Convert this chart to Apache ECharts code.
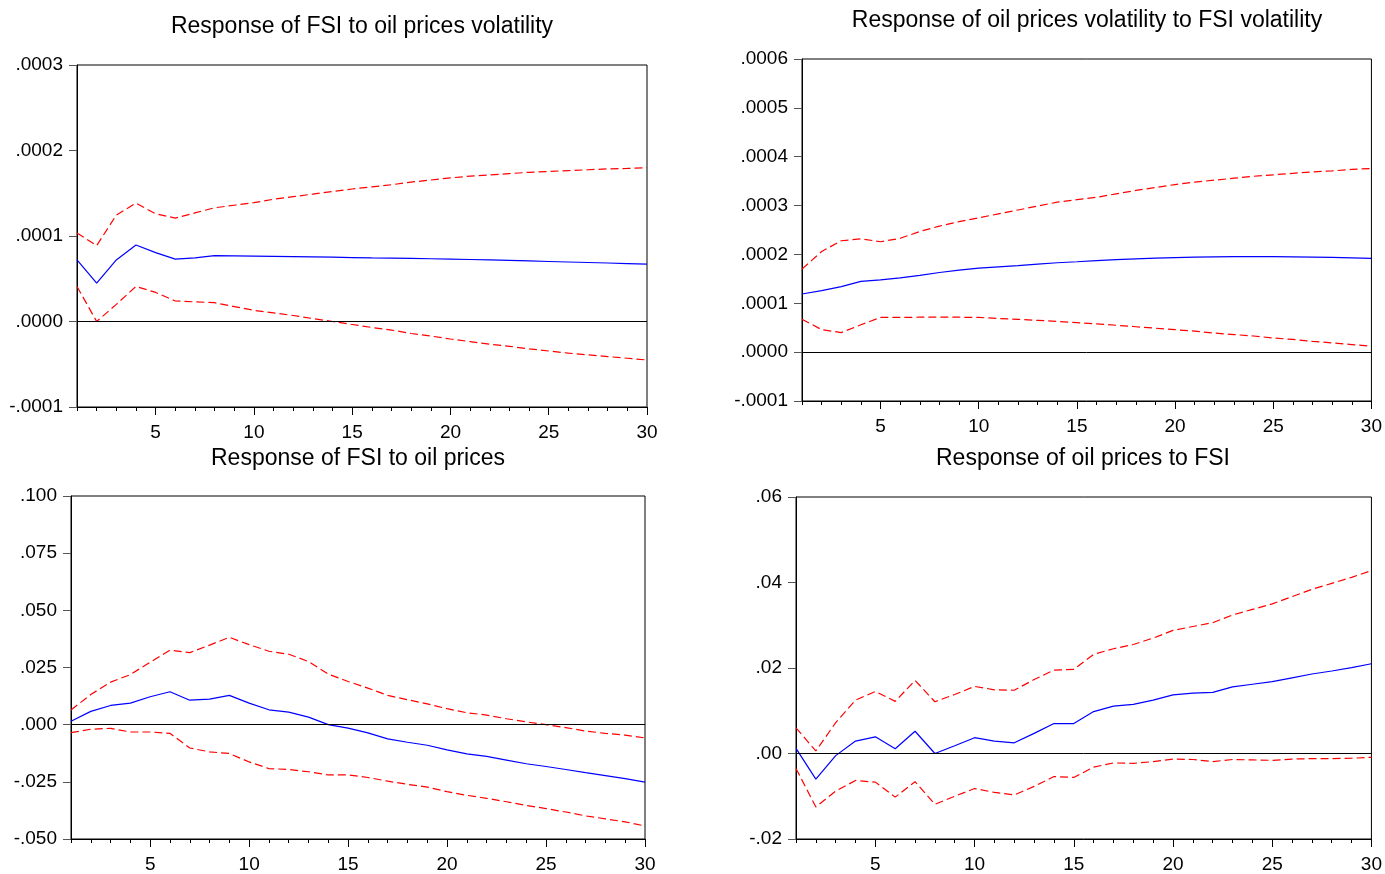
<!DOCTYPE html>
<html>
<head>
<meta charset="utf-8">
<script src="https://cdn.jsdelivr.net/npm/echarts@6/dist/echarts.min.js"></script>
<style>
html,body{margin:0;padding:0;background:#fff;}
#chart{width:1385px;height:874px;}
</style>
</head>
<body>
<div id="chart"></div>
<script>
// ---- data ----
const horizons = [1,2,3,4,5,6,7,8,9,10,11,12,13,14,15,16,17,18,19,20,21,22,23,24,25,26,27,28,29,30];
const xTickLabels = [5,10,15,20,25,30];

const titles = [
  "Response of FSI to oil prices volatility",
  "Response of oil prices volatility to FSI volatility",
  "Response of FSI to oil prices",
  "Response of oil prices to FSI"
];

// Panel 1: Response of FSI to oil prices volatility
const p1Mid = [7.20e-5,4.50e-5,7.20e-5,8.95e-5,8.05e-5,7.30e-5,7.45e-5,7.70e-5,7.68e-5,7.65e-5,7.62e-5,7.59e-5,7.56e-5,7.52e-5,7.48e-5,7.44e-5,7.41e-5,7.38e-5,7.34e-5,7.30e-5,7.25e-5,7.20e-5,7.14e-5,7.08e-5,7.02e-5,6.96e-5,6.90e-5,6.84e-5,6.77e-5,6.70e-5];
const p1Up  = [1.035e-4,0.887e-4,1.245e-4,1.385e-4,1.26e-4,1.21e-4,1.27e-4,1.33e-4,1.36e-4,1.39e-4,1.43e-4,1.46e-4,1.49e-4,1.52e-4,1.55e-4,1.575e-4,1.60e-4,1.63e-4,1.655e-4,1.68e-4,1.70e-4,1.715e-4,1.73e-4,1.745e-4,1.755e-4,1.765e-4,1.775e-4,1.785e-4,1.79e-4,1.80e-4];
const p1Lo  = [4.1e-5,0.0,2.0e-5,4.1e-5,3.4e-5,2.4e-5,2.3e-5,2.2e-5,1.75e-5,1.3e-5,1.0e-5,7.0e-6,3.5e-6,0.0,-3.5e-6,-7.0e-6,-1.0e-5,-1.4e-5,-1.7e-5,-2.05e-5,-2.35e-5,-2.65e-5,-2.9e-5,-3.2e-5,-3.45e-5,-3.7e-5,-3.9e-5,-4.1e-5,-4.3e-5,-4.5e-5];

// Panel 2: Response of oil prices volatility to FSI volatility
const p2Mid = [1.19e-4,1.26e-4,1.34e-4,1.45e-4,1.48e-4,1.52e-4,1.57e-4,1.63e-4,1.68e-4,1.72e-4,1.745e-4,1.77e-4,1.80e-4,1.83e-4,1.85e-4,1.875e-4,1.895e-4,1.91e-4,1.925e-4,1.935e-4,1.945e-4,1.95e-4,1.955e-4,1.955e-4,1.955e-4,1.95e-4,1.945e-4,1.94e-4,1.93e-4,1.92e-4];
const p2Up  = [1.70e-4,2.06e-4,2.28e-4,2.32e-4,2.26e-4,2.33e-4,2.47e-4,2.58e-4,2.67e-4,2.75e-4,2.83e-4,2.91e-4,2.99e-4,3.07e-4,3.12e-4,3.17e-4,3.24e-4,3.31e-4,3.37e-4,3.43e-4,3.48e-4,3.52e-4,3.56e-4,3.60e-4,3.63e-4,3.66e-4,3.69e-4,3.71e-4,3.74e-4,3.76e-4];
const p2Lo  = [6.75e-5,4.6e-5,4.0e-5,5.6e-5,7.1e-5,7.1e-5,7.15e-5,7.15e-5,7.15e-5,7.1e-5,6.9e-5,6.7e-5,6.5e-5,6.3e-5,6.05e-5,5.8e-5,5.5e-5,5.2e-5,4.9e-5,4.6e-5,4.3e-5,3.9e-5,3.6e-5,3.3e-5,2.9e-5,2.6e-5,2.2e-5,1.9e-5,1.55e-5,1.2e-5];

// Panel 3: Response of FSI to oil prices
const p3Mid = [0.0015,0.0058,0.0084,0.0094,0.0122,0.0144,0.0107,0.0112,0.0128,0.0094,0.0065,0.0055,0.0033,0.0000,-0.0015,-0.0036,-0.0062,-0.0077,-0.0090,-0.0110,-0.0128,-0.0139,-0.0155,-0.0171,-0.0183,-0.0196,-0.0210,-0.0223,-0.0236,-0.0251];
const p3Up  = [0.0064,0.0132,0.0186,0.0219,0.0273,0.0326,0.0315,0.0348,0.0382,0.0350,0.0321,0.0308,0.0276,0.0221,0.0189,0.0160,0.0128,0.0109,0.0091,0.0070,0.0052,0.0042,0.0026,0.0012,0.0000,-0.0013,-0.0028,-0.0038,-0.0046,-0.0058];
const p3Lo  = [-0.0035,-0.0020,-0.0016,-0.0032,-0.0032,-0.0038,-0.0102,-0.0119,-0.0126,-0.0163,-0.0192,-0.0196,-0.0206,-0.0220,-0.0220,-0.0231,-0.0247,-0.0261,-0.0273,-0.0293,-0.0309,-0.0322,-0.0337,-0.0353,-0.0367,-0.0382,-0.0399,-0.0412,-0.0425,-0.0443];

// Panel 4: Response of oil prices to FSI
const p4Mid = [0.0012,-0.0060,-0.0005,0.0029,0.0039,0.0011,0.0052,0.0000,0.0018,0.0037,0.0029,0.0025,0.0047,0.0070,0.0070,0.0098,0.0111,0.0115,0.0125,0.0137,0.0141,0.0143,0.0156,0.0162,0.0168,0.0177,0.0186,0.0193,0.0201,0.0210];
const p4Up  = [0.0060,0.0006,0.0072,0.0125,0.0145,0.0122,0.0171,0.0121,0.0138,0.0157,0.0149,0.0148,0.0173,0.0195,0.0197,0.0232,0.0245,0.0255,0.0270,0.0288,0.0297,0.0306,0.0324,0.0337,0.0350,0.0367,0.0384,0.0398,0.0412,0.0428];
const p4Lo  = [-0.0035,-0.0125,-0.0088,-0.0063,-0.0067,-0.0102,-0.0066,-0.0119,-0.0100,-0.0082,-0.0091,-0.0097,-0.0077,-0.0054,-0.0056,-0.0032,-0.0022,-0.0023,-0.0019,-0.0013,-0.0014,-0.0019,-0.0014,-0.0015,-0.0016,-0.0013,-0.0012,-0.0012,-0.0011,-0.0009];

// y-axis ranges (min, max, interval, decimals)
const yMins = [-0.0001,-0.0001,-0.05,-0.02];
const yMaxs = [0.0003,0.0006,0.1,0.06];
const yIntervals = [0.0001,0.0001,0.025,0.02];
const yDecimals = [4,4,3,2];

// ---- layout / style ----
const FONT = "'Liberation Sans', Arial, sans-serif";
const grids = [
  {left:77, right:738, top:65, bottom:467},
  {left:802, right:12, top:59, bottom:473},
  {left:71, right:740, top:496, bottom:33},
  {left:796, right:13, top:497, bottom:32}
];
const titlePos = [
  {left:357, top:10},
  {left:1082, top:4},
  {left:353, top:442},
  {left:1078, top:442}
];
const panels = [
  [p1Mid,p1Up,p1Lo],
  [p2Mid,p2Up,p2Lo],
  [p3Mid,p3Up,p3Lo],
  [p4Mid,p4Up,p4Lo]
];

function pairs(arr){ return horizons.map((h,i)=>[h,arr[i]]); }
function fmt(d){
  return function(v){
    return Number(v).toFixed(d).replace(/^(-?)0\./,'$1.');
  };
}

const option = {
  backgroundColor:'#fff',
  animation:false,
  title: titles.map((t,i)=>({
    text:t, left:titlePos[i].left, top:titlePos[i].top, textAlign:'center',
    textStyle:{fontFamily:FONT,fontSize:23,fontWeight:'normal',color:'#000'}
  })),
  grid: grids.map(g=>Object.assign({show:true,borderColor:'#000',borderWidth:1,backgroundColor:'#fff',containLabel:false},g)),
  xAxis: [],
  yAxis: [],
  series: []
};

grids.forEach((g,i)=>{
  // minor ticks axis
  option.xAxis.push({
    type:'value', gridIndex:i, min:1, max:30, position:'bottom',
    axisLine:{show:true,onZero:false,lineStyle:{color:'#000',width:1}},
    axisTick:{show:true,inside:false,length:4,customValues:horizons,lineStyle:{color:'#000'}},
    axisLabel:{show:false},
    splitLine:{show:false}
  });
  // major ticks + labels axis
  option.xAxis.push({
    type:'value', gridIndex:i, min:1, max:30, position:'bottom',
    axisLine:{show:false,onZero:false},
    axisTick:{show:true,inside:false,length:8,customValues:xTickLabels,lineStyle:{color:'#000'}},
    axisLabel:{show:true,customValues:xTickLabels,margin:16,fontFamily:FONT,fontSize:19,color:'#000'},
    splitLine:{show:false}
  });
  option.yAxis.push({
    type:'value', gridIndex:i, min:yMins[i], max:yMaxs[i], interval:yIntervals[i],
    axisLine:{show:true,lineStyle:{color:'#000',width:1}},
    axisTick:{show:true,inside:false,length:8,lineStyle:{color:'#555'}},
    axisLabel:{formatter:fmt(yDecimals[i]),margin:14,fontFamily:FONT,fontSize:19,color:'#000'},
    splitLine:{show:false}
  });
  const [mid,up,lo] = panels[i];
  option.series.push({
    type:'line', xAxisIndex:2*i, yAxisIndex:i, data:pairs(up), symbol:'none',
    lineStyle:{color:'#ff0000',width:1.2,type:[8,4]}, silent:true,
    markLine:{silent:true,symbol:['none','none'],label:{show:false},
      lineStyle:{color:'#000',width:1,type:'solid'},data:[{yAxis:0}]}
  });
  option.series.push({
    type:'line', xAxisIndex:2*i, yAxisIndex:i, data:pairs(lo), symbol:'none',
    lineStyle:{color:'#ff0000',width:1.2,type:[8,4]}, silent:true
  });
  option.series.push({
    type:'line', xAxisIndex:2*i, yAxisIndex:i, data:pairs(mid), symbol:'none',
    lineStyle:{color:'#0000ff',width:1.2}, silent:true
  });
});

const chart = echarts.init(document.getElementById('chart'), null, {renderer:'canvas'});
chart.setOption(option);
</script>
</body>
</html>
